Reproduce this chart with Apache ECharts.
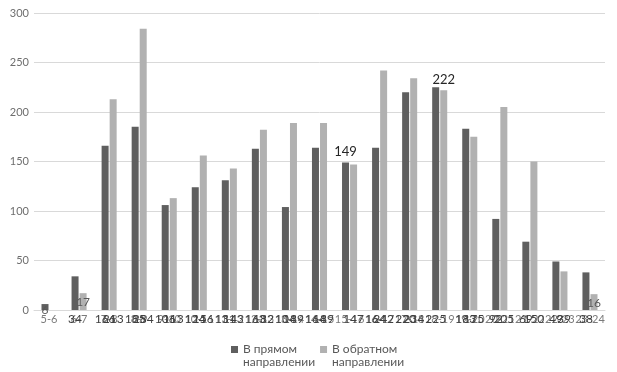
<!DOCTYPE html>
<html><head><meta charset="utf-8">
<script src="https://cdn.jsdelivr.net/npm/echarts@6/dist/echarts.min.js"></script>
<style>html,body{margin:0;padding:0;background:#fff}#c{width:617px;height:372px}</style>
</head><body><div id="c"></div>
<script>
const categories = ['5-6','6-7','7-8','8-9','9-10','10-11','11-12','12-13','13-14','14-15','15-16','16-17','17-18','18-19','19-20','20-21','21-22','22-23','23-24'];
const forward = [6,34,166,185,106,124,131,163,104,164,149,164,220,225,183,92,69,49,38];
const backward = [null,17,213,284,113,156,143,182,189,189,147,242,234,222,175,205,150,39,16];
const seriesNames = ['В прямом направлении','В обратном направлении'];
const yMin = 0, yMax = 300, yStep = 50;

const FONT = 'Lato, "Open Sans", sans-serif';
const baseLabel = {show:true, position:'bottom', distance:3, color:'#404040', fontSize:12, fontFamily:FONT};
const topBig = {position:'top', distance:4, fontSize:13, color:'#262626'};

const fwdSpecial = {0:{position:'bottom', distance:-6, color:'#595959'}, 10: topBig};
const bwdSpecial = {1:{position:'insideTop', distance:3, color:'#595959'}, 13: topBig, 18:{position:'insideTop', distance:3, color:'#595959'}};

function build(arr, special){
  return arr.map((v,i)=> special[i] ? {value:v, label:Object.assign({}, special[i])} : v);
}
function wrapName(n){
  const k = n.lastIndexOf(' ');
  return '\n' + n.slice(0,k) + '\n' + n.slice(k+1);
}

const chart = echarts.init(document.getElementById('c'), null, {renderer:'canvas'});
chart.setOption({
  animation:false,
  textStyle:{fontFamily:FONT},
  grid:{left:34, right:12, top:13, bottom:62, containLabel:false},
  xAxis:{type:'category', data:categories,
    axisTick:{show:false},
    axisLine:{lineStyle:{color:'#d9d9d9'}},
    axisLabel:{interval:0, margin:4, fontSize:11, color:'#7a7a7a', fontFamily:FONT}},
  yAxis:{type:'value', min:yMin, max:yMax, interval:yStep,
    axisLine:{show:false}, axisTick:{show:false},
    axisLabel:{margin:5, fontSize:11, color:'#6e6e6e', fontFamily:FONT},
    splitLine:{lineStyle:{color:'#d9d9d9'}}},
  legend:{top:325, left:226, itemWidth:7, itemHeight:7, itemGap:5, icon:'rect',
    data:seriesNames,
    formatter: wrapName,
    textStyle:{fontSize:12, color:'#595959', fontFamily:FONT, lineHeight:13}},
  series:[
    {name:seriesNames[0], type:'bar', data:build(forward, fwdSpecial), barWidth:7, barGap:'15%',
      itemStyle:{color:'#5f5f5f'}, label:baseLabel},
    {name:seriesNames[1], type:'bar', data:build(backward, bwdSpecial), barWidth:7, barGap:'15%',
      itemStyle:{color:'#b1b1b1'}, label:baseLabel}
  ]
});
</script></body></html>
